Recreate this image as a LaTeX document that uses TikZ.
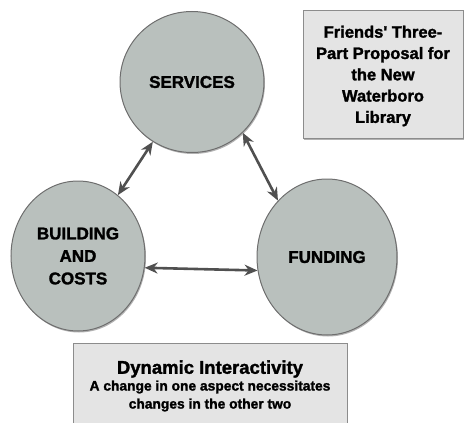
\documentclass[tikz,border=0pt]{standalone}
\usepackage{fontspec}
\setmainfont{Liberation Sans}[BoldFeatures={FakeBold=1.6}]
\usetikzlibrary{shapes.geometric,arrows.meta,shadows}
\definecolor{circfill}{HTML}{B9C0BD}
\definecolor{circedge}{HTML}{6E6E6E}
\definecolor{boxfill}{HTML}{E4E4E4}
\definecolor{boxedge}{HTML}{8C8C8C}
\definecolor{arrowcol}{HTML}{505050}
\tikzset{
  topic/.style={ellipse, draw=circedge, line width=1pt, fill=circfill, inner sep=0pt,
    align=center, font=\fontsize{17}{22.5}\selectfont\bfseries,
    drop shadow={shadow xshift=1pt, shadow yshift=-1.5pt, opacity=0.3, fill=black}},
  panel/.style={rectangle, draw=boxedge, line width=0.8pt, fill=boxfill, inner sep=0pt,
    drop shadow={shadow xshift=1pt, shadow yshift=-1.5pt, opacity=0.3, fill=black}},
  link/.style={draw=arrowcol, line width=2.6pt,
    {Stealth[length=13pt,width=11pt]}-{Stealth[length=13pt,width=11pt]}},
  plain/.style={align=center, inner sep=0pt}
}
\begin{document}
\begin{tikzpicture}[x=1pt,y=-1pt]
\useasboundingbox (0,0) rectangle (464,423);
% circles
\node[topic, minimum width=144pt, minimum height=141pt] (svc) at (192,82) {SERVICES};
\node[topic, minimum width=134pt, minimum height=150pt] (bld) at (78,256) {BUILDING\\AND\\COSTS};
\node[topic, minimum width=140pt, minimum height=156pt] (fund) at (327,257) {FUNDING};
% connectors
\draw[link] (svc) -- (bld);
\draw[link] (svc.-45) -- (fund.131);
\draw[link] (bld.-10) -- (fund.191);
% title panel
\node[panel, minimum width=160pt, minimum height=128pt] (titlebox) at (383,74) {};
\node[plain, font=\fontsize{16.5}{21.3}\selectfont\bfseries] (title) at (383,76)
  {Friends\textquotesingle{} Three-\\Part Proposal for\\the New\\Waterboro\\Library};
% bottom panel
\node[panel, minimum width=274pt, minimum height=82pt] (notebox) at (210,384) {};
\node[plain, font=\fontsize{18.5}{20}\selectfont\bfseries] (notehead) at (210,369) {Dynamic Interactivity};
\node[plain, font=\fontsize{13.8}{18}\selectfont\bfseries] (notetext) at (210,396)
  {A change in one aspect necessitates\\changes in the other two};
\end{tikzpicture}
\end{document}
